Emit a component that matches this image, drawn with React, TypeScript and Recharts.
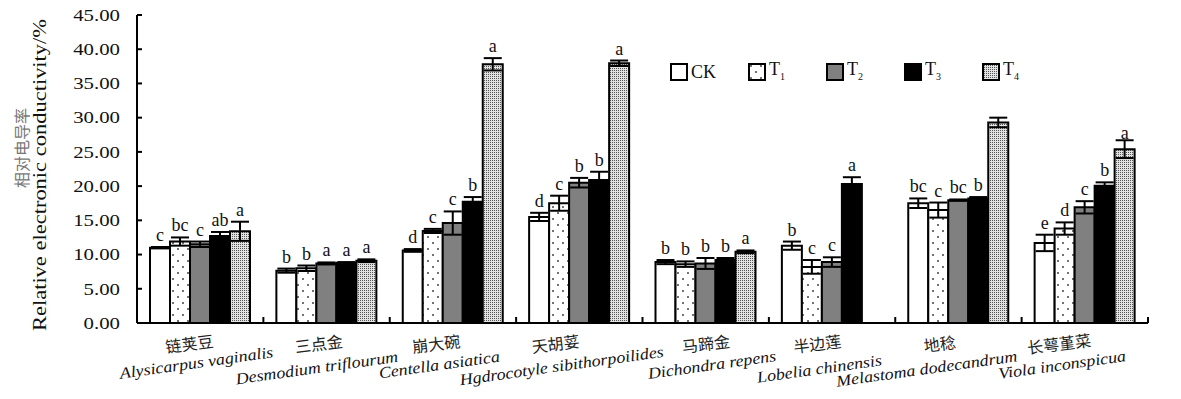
import React from 'react';
import { BarChart, Bar, XAxis, YAxis, ErrorBar, LabelList, Legend } from 'recharts';

// ---------- data ----------
const categoriesCN = ['链荚豆', '三点金', '崩大碗', '天胡荽', '马蹄金', '半边莲', '地稔', '长萼堇菜'];
const categoriesLatin = [
  'Alysicarpus vaginalis',
  'Desmodium triflourum',
  'Centella asiatica',
  'Hgdrocotyle sibithorpoilides',
  'Dichondra repens',
  'Lobelia chinensis',
  'Melastoma dodecandrum',
  'Viola inconspicua',
];

const ck = [11.0, 7.65, 10.6, 15.5, 8.9, 11.3, 17.5, 11.7];
const ckErr = [0.1, 0.3, 0.2, 0.6, 0.3, 0.6, 0.7, 1.2];
const ckSig = ['c', 'b', 'd', 'd', 'b', 'b', 'bc', 'e'];

const t1 = [11.9, 8.0, 13.45, 17.5, 8.6, 8.2, 16.5, 13.8];
const t1Err = [0.6, 0.4, 0.3, 1.1, 0.4, 1.0, 1.1, 0.9];
const t1Sig = ['bc', 'b', 'c', 'c', 'b', 'c', 'c', 'd'];

const t2 = [11.5, 8.7, 14.6, 20.5, 8.7, 8.9, 17.95, 16.9];
const t2Err = [0.4, 0.15, 1.7, 0.7, 0.8, 0.7, 0.1, 0.9];
const t2Sig = ['c', 'a', 'c', 'b', 'b', 'c', 'bc', 'c'];

const t3 = [12.7, 8.8, 17.7, 20.9, 9.2, 20.3, 18.2, 20.05];
const t3Err = [0.6, 0.1, 0.7, 1.2, 0.3, 1.0, 0.2, 0.5];
const t3Sig = ['ab', 'a', 'b', 'b', 'b', 'a', 'b', 'b'];

const t4 = [13.4, 9.1, 37.8, 37.95, 10.4, null, 29.3, 25.4];
const t4Err = [1.4, 0.2, 0.9, 0.4, 0.2, null, 0.7, 1.3];
const t4Sig = ['a', 'a', 'a', 'a', 'a', '', 'a', 'a'];

const yTicks = [0, 5, 10, 15, 20, 25, 30, 35, 40, 45];
const yTitleCN = '相对电导率';
const yTitleEN = 'Relative electronic conductivity/%';

const seriesKeys = ['ck', 't1', 't2', 't3', 't4'];
const seriesLabels = ['CK', 'T1', 'T2', 'T3', 'T4'];
const seriesFills = ['#ffffff', 'url(#patT1)', '#808080', '#000000', 'url(#patT4)'];
const seriesVals = [ck, t1, t2, t3, t4];
const seriesErrs = [ckErr, t1Err, t2Err, t3Err, t4Err];
const seriesSigs = [ckSig, t1Sig, t2Sig, t3Sig, t4Sig];

const data = categoriesCN.map((cn, i) => {
  const row: any = { cn, latin: categoriesLatin[i] };
  seriesKeys.forEach((k, s) => {
    row[k] = seriesVals[s][i];
    row[k + 'Err'] = seriesErrs[s][i];
    row[k + 'Sig'] = seriesSigs[s][i];
  });
  return row;
});

// ---------- layout ----------
const W = 1181;
const H = 399;
const M = { top: 15, right: 33, bottom: 0, left: 0 };
const Y_W = 137;
const X_H = 76;
const BAND = (W - M.right - Y_W) / categoriesCN.length;
const SERIF = 'Liberation Serif';
const CJK = 'Noto Sans CJK SC';
// hand-placed label nudges (layout only)
const CN_DX = [-10, -7, -16, -23, 1, -14, -18, -25];
const LAT_DX = [-3, -9, -13, -17, 7, -12, -31, -22];
const LAT_DY = [0, 5, 2, 3, 2, 6, 6, 2];

const YTick = (p: any) => {
  const { x, y, payload } = p;
  const ax = x + 17;
  return (
    <g>
      <line x1={ax} x2={ax + 5} y1={y} y2={y} stroke="#000" strokeWidth={2} />
      <g transform={`translate(${x},${y}) scale(1.3,1)`}>
        <text x={0} y={0} dy="0.36em" textAnchor="end" style={{ fontSize: 16, fontFamily: SERIF }} fill="#111">
          {Number(payload.value).toFixed(2)}
        </text>
      </g>
    </g>
  );
};

const XTick = (p: any) => {
  const { x, y, payload } = p;
  const idx = categoriesCN.indexOf(payload.value);
  const latin = categoriesLatin[idx];
  const last = idx === categoriesCN.length - 1;
  return (
    <g>
      <line x1={x - BAND / 2} x2={x - BAND / 2} y1={y} y2={y - 6} stroke="#000" strokeWidth={2} />
      {last && <line x1={x + BAND / 2} x2={x + BAND / 2} y1={y} y2={y - 6} stroke="#000" strokeWidth={2} />}
      <g transform={`translate(${x + CN_DX[idx]},${y + 27}) rotate(-7)`}>
        <text x={0} y={0} textAnchor="middle" style={{ fontSize: 16, fontFamily: CJK }} fill="#222">
          {payload.value}
        </text>
      </g>
      <g transform={`translate(${x + LAT_DX[idx]},${y + 45 + LAT_DY[idx]}) rotate(-8) scale(1.12,1)`}>
        <text
          x={0}
          y={0}
          textAnchor="middle"
          style={{ fontSize: 16, fontFamily: SERIF, fontStyle: 'italic' }}
          fill="#111"
        >
          {latin}
        </text>
      </g>
    </g>
  );
};

const makeSig = (s: number) => (p: any) => {
  const i = p.index;
  const v = seriesVals[s][i];
  const sig = seriesSigs[s][i];
  if (v == null || !sig) return null;
  const vb = p.viewBox || {};
  const x = p.x ?? vb.x;
  const y = p.y ?? vb.y;
  const w = p.width ?? vb.width;
  const h = p.height ?? vb.height;
  const e = seriesErrs[s][i] ?? 0;
  const errPx = v > 0 ? (e * h) / v : 0;
  return (
    <text
      x={x + w / 2}
      y={y - errPx - 6}
      textAnchor="middle"
      style={{ fontSize: 18, fontFamily: SERIF }}
      fill="#111"
    >
      {sig}
    </text>
  );
};

const LegendContent = () => (
  <div style={{ display: 'flex', alignItems: 'center', fontFamily: SERIF, fontSize: 18, color: '#111' }}>
    {seriesLabels.map((lab, s) => (
      <div key={lab} style={{ width: 78, display: 'flex', alignItems: 'center' }}>
        <svg width={19} height={19} style={{ display: 'block' }}>
          <rect x={1} y={1} width={16} height={16} fill={seriesFills[s]} stroke="#000" strokeWidth={2} />
        </svg>
        <span style={{ marginLeft: 2, lineHeight: '19px' }}>
          {lab.charAt(0)}
          {lab !== 'CK' ? <sub style={{ fontSize: 10, verticalAlign: 'sub' }}>{lab.slice(1)}</sub> : lab.slice(1)}
        </span>
      </div>
    ))}
  </div>
);

export default function App() {
  return (
    <div style={{ position: 'absolute', left: 0, top: 0, width: W, height: H, background: '#fff' }}>
      <svg width={W} height={H} style={{ position: 'absolute', left: 0, top: 0, pointerEvents: 'none' }}>
        <defs>
          <pattern id="patT1" width={10} height={12} patternUnits="userSpaceOnUse">
            <rect width={10} height={12} fill="#fff" />
            <circle cx={3} cy={3} r={1} fill="#444" />
            <circle cx={8} cy={9} r={1} fill="#444" />
          </pattern>
          <pattern id="patT4" width={2} height={2} patternUnits="userSpaceOnUse">
            <rect width={2} height={2} fill="#e2e2e2" />
            <rect width={1} height={1} fill="#555" />
          </pattern>
        </defs>
        <g transform="translate(28,148) rotate(-90)">
          <text x={0} y={0} textAnchor="middle" fill="#777" fontFamily={CJK} fontSize={16}>
            {yTitleCN}
          </text>
        </g>
        <g transform="translate(46,175) rotate(-90) scale(1.25,1)">
          <text x={0} y={0} textAnchor="middle" fill="#111" fontFamily={SERIF} fontSize={18}>
            {yTitleEN}
          </text>
        </g>
      </svg>
      <div style={{ position: 'absolute', left: 0, top: 0 }}>
        <BarChart width={W} height={H} data={data} margin={M} barSize={20} barGap={0}>
          <XAxis
            dataKey="cn"
            height={X_H}
            interval={0}
            tickSize={0}
            tickMargin={0}
            tickLine={false}
            axisLine={{ stroke: '#000', strokeWidth: 2 }}
            tick={<XTick />}
          />
          <YAxis
            width={Y_W}
            domain={[0, 45]}
            ticks={yTicks}
            interval={0}
            tickSize={0}
            tickMargin={17}
            tickLine={false}
            axisLine={{ stroke: '#000', strokeWidth: 2 }}
            tick={<YTick />}
          />
          <Legend
            layout="horizontal"
            verticalAlign="middle"
            align="center"
            content={<LegendContent />}
            wrapperStyle={{ position: 'absolute', left: 670, top: 60, width: 400 }}
          />
          {seriesKeys.map((k, s) => (
            <Bar
              key={k}
              dataKey={k}
              name={seriesLabels[s]}
              fill={seriesFills[s]}
              stroke="#000"
              strokeWidth={2}
              isAnimationActive={false}
            >
              <ErrorBar dataKey={k + 'Err'} width={9} stroke="#000" strokeWidth={2} direction="y" />
              <LabelList dataKey={k + 'Sig'} content={makeSig(s)} />
            </Bar>
          ))}
        </BarChart>
      </div>
    </div>
  );
}
